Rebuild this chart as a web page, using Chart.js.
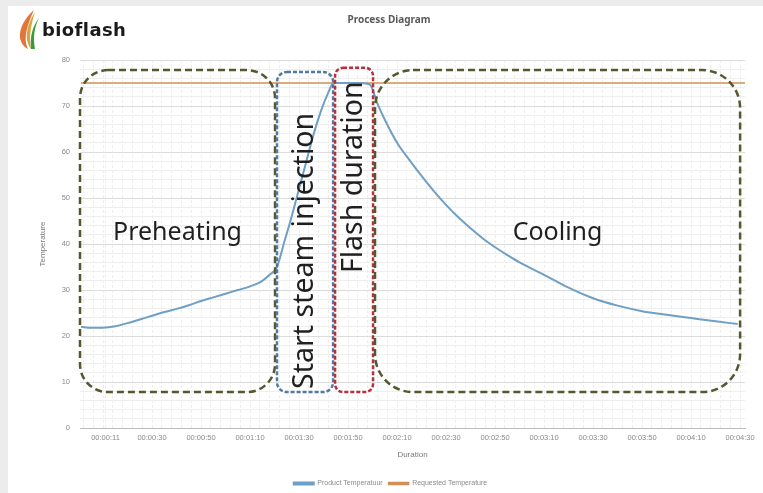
<!DOCTYPE html>
<html>
<head>
<meta charset="utf-8">
<script src="https://cdn.jsdelivr.net/npm/chart.js@4/dist/chart.umd.min.js"></script>
<style>
  html, body { margin: 0; padding: 0; background: #ececec; }
  #panel { position: absolute; left: 8px; top: 6px; width: 755px; height: 487px; background: #fff; }
  #wrap { position: absolute; left: 0; top: 0; width: 763px; height: 493px; }
  #logo { position: absolute; left: 14px; top: 8px; height: 42px; }
  #logo span { position: absolute; left: 28px; top: 11px; font-family: "DejaVu Sans", sans-serif; font-weight: bold; font-size: 18px; color: #1a1a1a; letter-spacing: 0.4px; }
  #title { position: absolute; left: 0; width: 778px; top: 12px; text-align: center; font-family: "Noto Sans", sans-serif; font-weight: bold; font-size: 10px; color: #5a5a5a; }
</style>
</head>
<body>
<div id="panel"></div>
<div id="wrap"><canvas id="processChart"></canvas></div>
<div id="logo">
  <svg width="26" height="42" viewBox="0 0 26 42">
    <path d="M20 2 C11 10 5 20 6 30 C7 35 10 39 14 41 C10 32 11 22 20 2 Z" fill="#e3753c"/>
    <path d="M21 4 C15 13 12 23 13 32 C14 36 15 39 17 41 C15 31 16 20 21 4 Z" fill="#d4a83c"/>
    <path d="M25 10 C18 19 16 29 17 41 L21 41 C19 30 20 20 25 10 Z" fill="#3d9a3a"/>
  </svg>
  <span>bioflash</span>
</div>
<div id="title">Process Diagram</div>
<script>
// measured product temperature (seconds since start, °C)
const productSeconds = [1, 5, 10, 15, 20, 25, 30, 35, 40, 45, 50, 55, 60, 65, 70, 75, 78, 81,
  84, 87, 90, 93, 96, 99, 102, 104, 110, 115, 119,
  122, 125, 130, 135, 140, 145, 150, 155, 160, 165, 170, 175, 180, 190, 200, 210, 220, 230, 240, 250, 260, 269];
const productTemp = [22.0, 21.8, 21.8, 22.1, 22.8, 23.6, 24.4, 25.2, 25.9, 26.7, 27.6, 28.4, 29.2, 30.0, 30.8, 32.0, 33.3, 35.0,
  40.5, 46, 52, 58, 64, 69, 73, 75, 75, 75, 74.6,
  70.5, 67, 62, 58.3, 54.8, 51.5, 48.5, 45.8, 43.4, 41.2, 39.3, 37.6, 36.0, 33.3, 30.5, 28.2, 26.6, 25.4, 24.6, 23.9, 23.2, 22.6];

const requestedSeconds = [1, 272];
const requestedTemp = [75, 75];

const tickSeconds = [11, 30, 50, 70, 90, 110, 130, 150, 170, 190, 210, 230, 250, 270];
const tickLabels = ["00:00:11", "00:00:30", "00:00:50", "00:01:10", "00:01:30", "00:01:50", "00:02:10",
  "00:02:30", "00:02:50", "00:03:10", "00:03:30", "00:03:50", "00:04:10", "00:04:30"];

const phaseNames = ["Preheating", "Start steam injection", "Flash duration", "Cooling"];
const phaseStart = [0.6, 81, 104.7, 121];
const phaseEnd = [80.2, 103.9, 120.2, 270];

const X_MIN = 0.6, X_MAX = 272;

// box styling per phase
const phaseStyle = [
  { color: "#56562f", dash: [7, 4], radius: 28, top: 77.8, bottom: 7.8, vertical: false, textAt: 42.4, size: 25 },
  { color: "#52799f", dash: [4, 2], radius: 10, top: 77.4, bottom: 7.8, vertical: true, textAt: 38.5, size: 28.5 },
  { color: "#b3303f", dash: [4, 2], radius: 8, top: 78.3, bottom: 7.8, vertical: true, textAt: 54.5, size: 28.5 },
  { color: "#56562f", dash: [7, 4], radius: 38, top: 77.8, bottom: 7.8, vertical: false, textAt: 42.4, size: 25 }
];

const phasePlugin = {
  id: "phases",
  afterDatasetsDraw(chart) {
    const { ctx, scales: { x, y } } = chart;
    phaseNames.forEach((name, i) => {
      const st = phaseStyle[i];
      const x0 = x.getPixelForValue(phaseStart[i]);
      const x1 = x.getPixelForValue(phaseEnd[i]);
      const y0 = y.getPixelForValue(st.top);
      const y1 = y.getPixelForValue(st.bottom);
      ctx.save();
      ctx.strokeStyle = st.color;
      ctx.lineWidth = 2.5;
      ctx.setLineDash(st.dash);
      ctx.beginPath();
      ctx.roundRect(x0, y0, x1 - x0, y1 - y0, st.radius);
      ctx.stroke();
      ctx.setLineDash([]);
      ctx.fillStyle = "#1f1f1f";
      ctx.font = st.size + "px 'Noto Sans', sans-serif";
      ctx.textAlign = "center";
      ctx.textBaseline = "middle";
      const cx = (x0 + x1) / 2;
      const cy = y.getPixelForValue(st.textAt);
      if (st.vertical) {
        ctx.translate(cx, cy);
        ctx.rotate(-Math.PI / 2);
        ctx.fillText(name, 0, 0);
      } else {
        ctx.fillText(name, cx, cy);
      }
      ctx.restore();
    });
  }
};

// light minor grid every 4 s, skipping spots that already hold a labelled tick
const gridSeconds = [];
for (let t = 2; t < X_MAX; t += 4) {
  if (!tickSeconds.includes(t)) gridSeconds.push(t);
}

new Chart(document.getElementById("processChart"), {
  type: "line",
  data: {
    datasets: [
      {
        label: "Product Temperatuur",
        data: productSeconds.map((t, i) => ({ x: t, y: productTemp[i] })),
        borderColor: "#6f9fc4",
        backgroundColor: "#6f9fc4",
        borderWidth: 2,
        pointRadius: 0,
        cubicInterpolationMode: "monotone"
      },
      {
        label: "Requested Temperature",
        data: requestedSeconds.map((t, i) => ({ x: t, y: requestedTemp[i] })),
        borderColor: "#d09055",
        backgroundColor: "#d09055",
        borderWidth: 1.5,
        pointRadius: 0
      }
    ]
  },
  options: {
    animation: false,
    responsive: true,
    maintainAspectRatio: false,
    layout: { padding: { left: 36, right: 18, top: 60, bottom: -4 } },
    scales: {
      x: {
        type: "linear",
        min: X_MIN,
        max: X_MAX,
        afterBuildTicks: (s) => {
          const all = gridSeconds.concat(tickSeconds).sort((a, b) => a - b);
          s.ticks = all.map((v) => ({ value: v }));
        },
        afterFit: (s) => { s.height = 46; },
        ticks: {
          autoSkip: false,
          maxRotation: 0,
          padding: 5,
          color: "#8a8a8a",
          font: { size: 7.5, family: "'Liberation Sans', sans-serif" },
          callback: (v) => {
            const k = tickSeconds.indexOf(v);
            return k >= 0 ? tickLabels[k] : "";
          }
        },
        grid: {
          drawTicks: false,
          color: "#eeeeee"
        },
        border: { color: "#bdbdbd", dash: [3, 2] },
        title: {
          display: true,
          text: "Duration",
          color: "#7a7a7a",
          font: { size: 8, family: "'Liberation Sans', sans-serif" },
          padding: { top: 2, bottom: 14 }
        }
      },
      y: {
        min: 0,
        max: 80,
        afterFit: (s) => { s.width = 44; },
        ticks: {
          stepSize: 2,
          autoSkip: false,
          padding: 10,
          color: "#8a8a8a",
          font: { size: 7.5, family: "'Liberation Sans', sans-serif" },
          callback: (v) => (v % 10 === 0 ? v : "")
        },
        grid: {
          drawTicks: false,
          color: (c) => (c.tick && c.tick.value % 10 === 0 ? "#dcdcdc" : "#efefef")
        },
        border: { display: false },
        title: {
          display: true,
          text: "Temperature",
          color: "#7a7a7a",
          font: { size: 8, family: "'Liberation Sans', sans-serif" },
          padding: 2
        }
      }
    },
    plugins: {
      legend: {
        position: "bottom",
        labels: {
          boxWidth: 20,
          boxHeight: 2,
          padding: 6,
          color: "#8a8a8a",
          font: { size: 7, family: "'Liberation Sans', sans-serif" }
        }
      },
      tooltip: { enabled: false }
    }
  },
  plugins: [phasePlugin]
});
</script>
</body>
</html>
